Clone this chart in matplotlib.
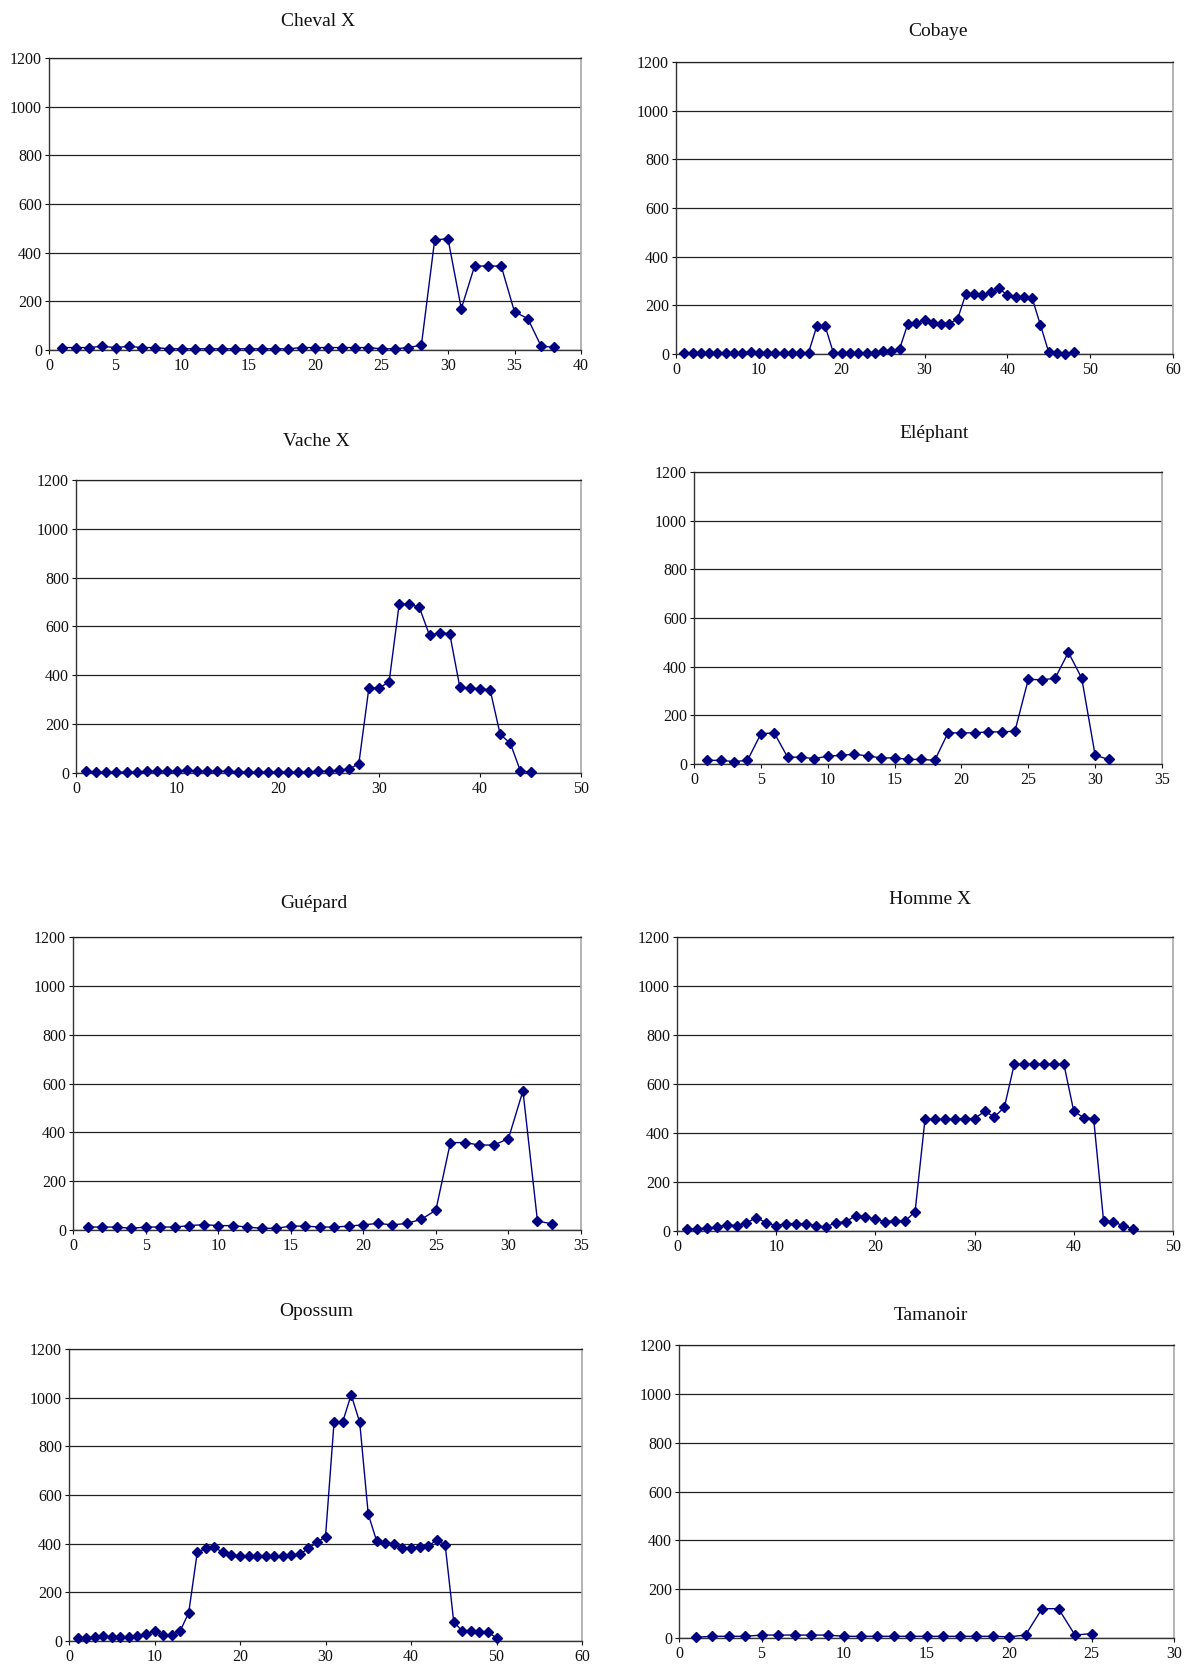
import matplotlib
matplotlib.use("Agg")
import matplotlib.pyplot as plt

plt.rcParams['font.family'] = ['Liberation Serif', 'DejaVu Serif']

# Series values (one point per position 1..n)
cheval_x = [10, 10, 10, 15, 10, 15, 10, 10, 5, 5, 5, 5, 5, 5, 5, 5, 5, 5, 10, 10,
            10, 10, 10, 10, 5, 5, 10, 20, 453, 457, 170, 345, 345, 345, 157, 129, 16, 11]
cobaye = [5, 5, 5, 5, 5, 5, 5, 5, 10, 5, 5, 5, 5, 5, 5, 5, 115, 115, 5, 5,
          5, 5, 5, 5, 12, 12, 22, 125, 127, 138, 129, 125, 125, 144, 248, 247, 241, 253, 270, 241,
          233, 233, 229, 119, 7, 3, 2, 8]
vache_x = [7, 3, 3, 3, 3, 3, 7, 7, 7, 7, 12, 7, 7, 7, 7, 3, 3, 3, 3, 3,
           3, 3, 3, 7, 7, 12, 16, 37, 349, 348, 373, 692, 692, 678, 564, 574, 571, 352, 348, 345,
           341, 158, 122, 8, 4]
elephant = [15, 15, 10, 15, 124, 128, 28, 28, 22, 32, 36, 40, 33, 25, 25, 19, 19, 15, 128, 128,
            128, 132, 132, 135, 348, 346, 352, 459, 352, 36, 19]
guepard = [12, 12, 12, 7, 12, 12, 12, 18, 22, 18, 18, 12, 7, 7, 16, 16, 12, 12, 16, 21,
           27, 21, 27, 44, 81, 358, 358, 348, 348, 374, 570, 37, 25]
homme_x = [8, 8, 12, 16, 26, 22, 33, 55, 33, 22, 30, 30, 30, 22, 16, 34, 37, 63, 59, 47,
           38, 42, 41, 79, 456, 456, 456, 456, 459, 459, 488, 466, 505, 681, 681, 681, 681, 681, 681, 488,
           463, 459, 42, 36, 22, 8]
opossum = [12, 12, 16, 20, 16, 16, 16, 20, 29, 42, 25, 25, 41, 116, 364, 381, 386, 364, 352, 348,
           348, 348, 348, 348, 348, 352, 356, 381, 405, 428, 899, 899, 1012, 899, 521, 409, 402, 398, 381, 381,
           385, 390, 415, 394, 78, 41, 41, 37, 37, 12]
tamanoir = [3, 7, 7, 7, 12, 12, 12, 12, 12, 7, 7, 7, 7, 7, 7, 7, 7, 7, 7, 5,
            12, 120, 120, 12, 18]

titles = ["Cheval X", "Cobaye", "Vache X", "Eléphant",
          "Guépard", "Homme X", "Opossum", "Tamanoir"]
series = [cheval_x, cobaye, vache_x, elephant, guepard, homme_x, opossum, tamanoir]
x_max = [40, 60, 50, 35, 35, 50, 60, 30]
x_step = [5, 10, 10, 5, 5, 10, 10, 5]

W, H = 1191, 1664
# axes boxes in pixels: left, top, right, bottom
boxes = [
    (49, 58, 581, 350),
    (676, 62, 1173, 354),
    (76, 480, 581, 773),
    (694, 472, 1162, 764),
    (73, 937, 581, 1230),
    (677, 937, 1173, 1231),
    (69, 1349, 582, 1641),
    (679, 1345, 1174, 1638),
]
title_pos = [(318, 21), (938, 32), (316, 441), (934, 434),
             (314, 903), (930, 899), (316, 1311), (931, 1315)]

fig = plt.figure(figsize=(W / 100, H / 100), dpi=100)
fig.patch.set_facecolor("white")

navy = "#000080"
for i, vals in enumerate(series):
    l, t, r, b = boxes[i]
    ax = fig.add_axes([l / W, 1 - b / H, (r - l) / W, (b - t) / H])
    xs = list(range(1, len(vals) + 1))
    ax.plot(xs, vals, color=navy, lw=1.0, marker="D", markersize=4.6,
            markerfacecolor=navy, markeredgecolor=navy, clip_on=False, zorder=3)
    ax.set_xlim(0, x_max[i])
    ax.set_ylim(0, 1200)
    ax.set_yticks(range(0, 1201, 200))
    ax.set_xticks(range(0, x_max[i] + 1, x_step[i]))
    ax.yaxis.grid(True, color="#222222", lw=0.9)
    ax.set_axisbelow(True)
    for side in ("left", "bottom"):
        ax.spines[side].set_color("#333333")
        ax.spines[side].set_linewidth(1.0)
    ax.spines["right"].set_color("#a8a8a8")
    ax.spines["right"].set_linewidth(1.2)
    ax.spines["top"].set_color("#222222")
    ax.spines["top"].set_linewidth(0.9)
    ax.tick_params(axis="both", direction="out", length=3, width=0.8,
                   labelsize=11.5, pad=2, colors="#111111")
    ax.tick_params(axis="x", pad=3)
    tx, ty = title_pos[i]
    fig.text(tx / W, 1 - ty / H, titles[i], ha="center", va="center",
             fontsize=14, color="#111111")

fig.savefig("out.png", dpi=100, facecolor="white")
